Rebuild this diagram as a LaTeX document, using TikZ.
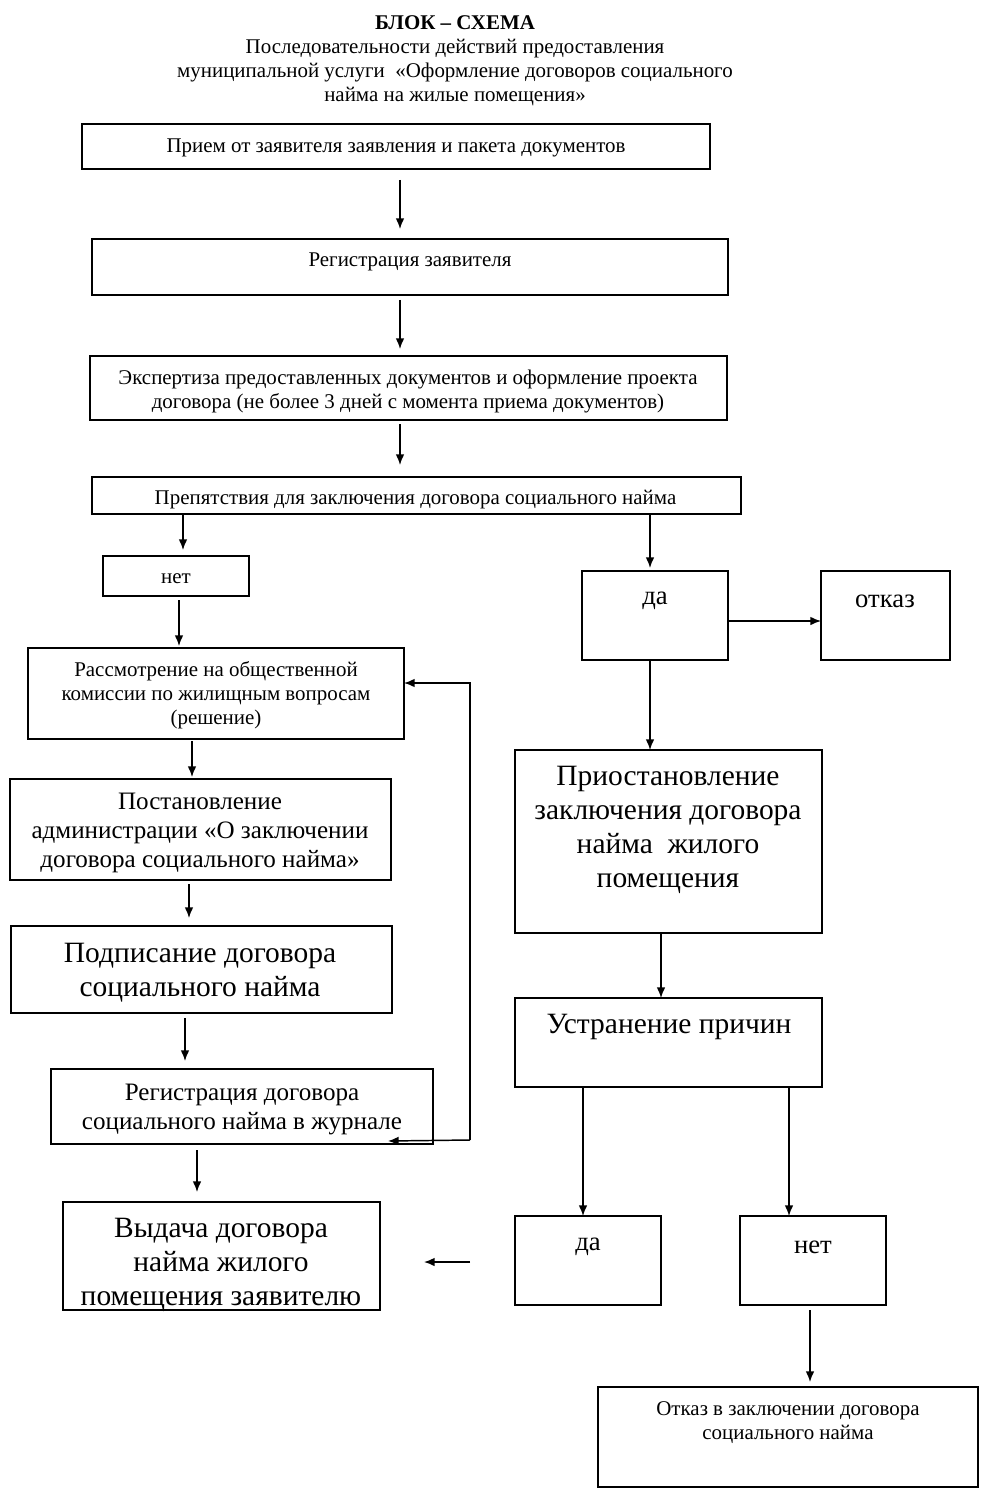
\documentclass[tikz,border=0pt]{standalone}
\usepackage{fontspec}
\setmainfont{Liberation Serif}
\usetikzlibrary{arrows.meta}
\begin{document}
\begin{tikzpicture}[x=0.75pt,y=-0.75pt,
  box/.style={draw, line width=1.1pt, inner sep=0pt, outer sep=0pt},
  txt/.style={inner sep=0pt, align=center, yshift=-2.25pt},
  small/.style={txt, font=\fontsize{15.7}{18}\selectfont},
  medium/.style={txt, font=\fontsize{18.8}{21.75}\selectfont},
  large/.style={txt, font=\fontsize{22.1}{25.5}\selectfont},
  mid/.style={txt, font=\fontsize{20}{22}\selectfont},
  arr/.style={line width=1.1pt, -{Latex[length=8pt,width=6.5pt]}}
]
\useasboundingbox (0,0) rectangle (992,1494);
\fill[white] (0,0) rectangle (992,1494);

% title
\node[small] (title) at (455,58) {\textbf{БЛОК – СХЕМА}\\Последовательности действий предоставления\\муниципальной услуги\ \ «Оформление договоров социального\\найма на жилые помещения»};

% boxes
\node[box, minimum width=471pt, minimum height=33.75pt] (b1) at (396,146.5) {};
\node[box, minimum width=477pt, minimum height=42pt] (b2) at (410,267) {};
\node[box, minimum width=477.75pt, minimum height=48pt] (b3) at (408.5,388) {};
\node[box, minimum width=486.75pt, minimum height=27.75pt] (b4) at (416.5,495.5) {};
\node[box, minimum width=109.5pt, minimum height=30pt] (bno) at (176,576) {};
\node[box, minimum width=109.5pt, minimum height=66.75pt] (byes) at (655,615.5) {};
\node[box, minimum width=96.75pt, minimum height=66.75pt] (bref) at (885.5,615.5) {};
\node[box, minimum width=282pt, minimum height=68.25pt] (b8) at (216,693.5) {};
\node[box, minimum width=285.75pt, minimum height=75.75pt] (b9) at (200.5,829.5) {};
\node[box, minimum width=285.75pt, minimum height=65.25pt] (b10) at (201.5,969.5) {};
\node[box, minimum width=286.5pt, minimum height=56.25pt] (b11) at (242,1106.5) {};
\node[box, minimum width=237.75pt, minimum height=81pt] (b12) at (221.5,1256) {};
\node[box, minimum width=230.25pt, minimum height=137.25pt] (b13) at (668.5,841.5) {};
\node[box, minimum width=230.25pt, minimum height=66.75pt] (b14) at (668.5,1042.5) {};
\node[box, minimum width=109.5pt, minimum height=66.75pt] (byes2) at (588,1260.5) {};
\node[box, minimum width=109.5pt, minimum height=66.75pt] (bno2) at (813,1260.5) {};
\node[box, minimum width=285pt, minimum height=75pt] (b17) at (788,1437) {};

% texts
\node[small] (t1) at (396,145) {Прием от заявителя заявления и пакета документов};
\node[small] (t2) at (410,259) {Регистрация заявителя};
\node[small] (t3) at (408,388.5) {Экспертиза предоставленных документов и оформление проекта\\договора (не более 3 дней с момента приема документов)};
\node[small] (t4) at (415.5,497) {Препятствия для заключения договора социального найма};
\node[small] (tno) at (176,576) {нет};
\node[mid] (tyes) at (655,598) {да};
\node[mid] (tref) at (885,598) {отказ};
\node[small] (t8) at (216,692) {Рассмотрение на общественной\\комиссии по жилищным вопросам\\(решение)};
\node[medium] (t9) at (200,830) {Постановление\\администрации «О заключении\\договора социального найма»};
\node[large] (t10) at (200,970) {Подписание договора\\социального найма};
\node[medium] (t11) at (242,1106.5) {Регистрация договора\\социального найма в журнале};
\node[large] (t12) at (221,1262) {Выдача договора\\найма жилого\\помещения заявителю};
\node[large] (t13) at (668,827) {Приостановление\\заключения договора\\найма\ \ жилого\\помещения};
\node[large] (t14) at (669,1024) {Устранение причин};
\node[mid] (tyes2) at (588,1244) {да};
\node[mid] (tno2) at (813,1244) {нет};
\node[small] (t17) at (788,1420) {Отказ в заключении договора\\социального найма};

% x positions of arrows
\coordinate (x400) at (400,0);
\coordinate (x183) at (183,0);
\coordinate (x650) at (650,0);
\coordinate (x179) at (179,0);
\coordinate (x192) at (192,0);
\coordinate (x189) at (189,0);
\coordinate (x185) at (185,0);
\coordinate (x197) at (197,0);
\coordinate (x661) at (661,0);
\coordinate (x583) at (583,0);
\coordinate (x789) at (789,0);
\coordinate (x810) at (810,0);
\coordinate (y621) at (0,621);
\coordinate (y1262) at (0,1262);

% arrows
\draw[arr, shorten <=8.25pt, shorten >=7.5pt] (b1.south -| x400) -- (b2.north -| x400);
\draw[arr, shorten <=3.75pt, shorten >=5.25pt] (b2.south -| x400) -- (b3.north -| x400);
\draw[arr, shorten <=3pt, shorten >=9pt] (b3.south -| x400) -- (b4.north -| x400);
\draw[arr, shorten >=4.5pt] (b4.south -| x183) -- (bno.north -| x183);
\draw[arr, shorten >=2.25pt] (b4.south -| x650) -- (byes.north -| x650);
\draw[arr, shorten <=3pt, shorten >=1.5pt] (bno.south -| x179) -- (b8.north -| x179);
\draw[arr] (byes.east |- y621) -- (bref.west |- y621);
\draw[arr] (byes.south -| x650) -- (b13.north -| x650);
\draw[arr, shorten <=1.5pt, shorten >=1.5pt] (b8.south -| x192) -- (b9.north -| x192);
\draw[arr, shorten <=3pt, shorten >=6pt] (b9.south -| x189) -- (b10.north -| x189);
\draw[arr, shorten <=3.75pt, shorten >=6pt] (b10.south -| x185) -- (b11.north -| x185);
\draw[arr, shorten <=4.5pt, shorten >=7.5pt] (b11.south -| x197) -- (b12.north -| x197);
\draw[arr] (b13.south -| x661) -- (b14.north -| x661);
\draw[arr] (b14.south -| x583) -- (byes2.north -| x583);
\draw[arr] (b14.south -| x789) -- (bno2.north -| x789);
\draw[arr, shorten <=3.75pt, shorten >=3.75pt] (bno2.south -| x810) -- (b17.north -| x810);
\draw[arr, shorten <=33.75pt, shorten >=33pt] (byes2.west |- y1262) -- (b12.east |- y1262);

% feedback line
\coordinate (fb1) at (470,683);
\coordinate (fb2) at (470,1140);
\coordinate (fbend) at (388,1141);
\draw[arr] (fb2) -- (fb1) -- (fb1 -| b8.east);
\draw[arr] (fb2) -- (fbend);
\end{tikzpicture}
\end{document}
